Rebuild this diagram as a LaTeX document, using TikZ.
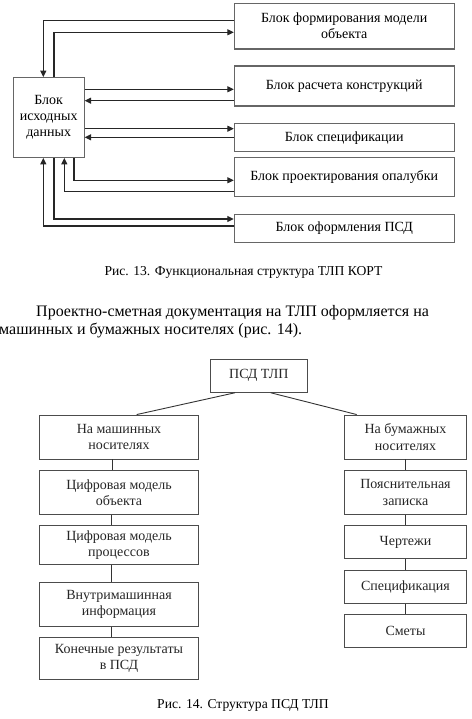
\documentclass[tikz,border=0pt]{standalone}
\usepackage{fontspec}
\setmainfont{Liberation Serif}
\usetikzlibrary{arrows.meta}
\begin{document}
\begin{tikzpicture}[x=1pt,y=-1pt,
  boxA/.style={draw=black!60,line width=1.1pt,inner sep=0pt,align=center,
    font=\fontsize{14}{16}\selectfont},
  boxB/.style={draw=black!70,line width=0.9pt,inner sep=0pt,align=center,
    font=\fontsize{14}{16.5}\selectfont,text=black!85},
  conn/.style={draw=black!85,line width=1.1pt},
  arr/.style={conn,-{Triangle[length=6.5pt,width=6pt]}},
  tline/.style={draw=black!80,line width=0.9pt}]
\useasboundingbox (0,0) rectangle (471,719);
% ---------- Figure 13 ----------
\node[boxA,minimum width=70.7pt,minimum height=79.6pt] (src) at (48.7,117.5) {Блок\\исходных\\данных};
\node[boxA,minimum width=219.7pt,minimum height=45.7pt] (b1) at (344.2,26.2) {Блок формирования модели\\объекта};
\node[boxA,minimum width=219.7pt,minimum height=40pt] (b2) at (344.2,86) {Блок расчета конструкций};
\node[boxA,minimum width=219.7pt,minimum height=28pt] (b3) at (344.2,137.7) {Блок спецификации};
\node[boxA,minimum width=219.7pt,minimum height=39.4pt] (b4) at (344.2,177) {Блок проектирования опалубки};
\node[boxA,minimum width=219.7pt,minimum height=28pt] (b5) at (344.2,228.3) {Блок оформления ПСД};
\draw[arr] (b1.west |- 0,20.7) -| (src.north -| 43.3,0);
\draw[arr] (src.north -| 54,0) |- (b1.west |- 0,32.3);
\draw[arr] (src.east |- 0,89.3) -- (b2.west |- 0,89.3);
\draw[arr] (b2.west |- 0,100.7) -- (src.east |- 0,100.7);
\draw[arr] (src.east |- 0,128.7) -- (b3.west |- 0,128.7);
\draw[arr] (b3.west |- 0,137.3) -- (src.east |- 0,137.3);
\draw[arr] (src.south -| 74,0) |- (b4.west |- 0,180.3);
\draw[arr] (b4.west |- 0,191.7) -| (src.south -| 64.3,0);
\draw[arr] (src.south -| 54,0) |- (b5.west |- 0,219);
\draw[arr] (b5.west |- 0,226) -| (src.south -| 43.3,0);
\node[font=\fontsize{13.6}{15}\selectfont] (cap13) at (243.5,272.7) {Рис. 13. Функциональная структура ТЛП КОРТ};
% ---------- paragraph ----------
\node[anchor=base west,inner sep=0pt,font=\fontsize{16}{18}\selectfont] (par1) at (36,316) {Проектно-сметная документация на ТЛП оформляется на};
\node[anchor=base west,inner sep=0pt,font=\fontsize{16}{18}\selectfont] (par2) at (-1,334.5) {машинных и бумажных носителях (рис. 14).};
% ---------- Figure 14 ----------
\node[boxB,minimum width=97.7pt,minimum height=33pt] (p) at (258.8,375.8) {ПСД ТЛП};
\node[boxB,minimum width=159.4pt,minimum height=44pt] (l1) at (119,437) {На машинных\\носителях};
\node[boxB,minimum width=159.4pt,minimum height=43.6pt] (l2) at (119,492.5) {Цифровая модель\\объекта};
\node[boxB,minimum width=159.4pt,minimum height=38.6pt] (l3) at (119,545) {Цифровая модель\\процессов};
\node[boxB,minimum width=159.4pt,minimum height=44pt] (l4) at (119,604.3) {Внутримашинная\\информация};
\node[boxB,minimum width=159.4pt,minimum height=41.3pt] (l5) at (119,658.3) {Конечные результаты\\в ПСД};
\node[boxB,minimum width=122.4pt,minimum height=44pt] (r1) at (405.5,437) {На бумажных\\носителях};
\node[boxB,minimum width=122.4pt,minimum height=43.6pt] (r2) at (405.5,492.5) {Пояснительная\\записка};
\node[boxB,minimum width=122.4pt,minimum height=32.6pt] (r3) at (405.5,542) {Чертежи};
\node[boxB,minimum width=122.4pt,minimum height=33.3pt] (r4) at (405.5,586.7) {Спецификация};
\node[boxB,minimum width=122.4pt,minimum height=33pt] (r5) at (405.5,630.8) {Сметы};
\draw[tline] (p.south -| 235,0) -- (l1.north -| 136.7,0);
\draw[tline] (p.south -| 270.7,0) -- (r1.north -| 356.7,0);
\draw[tline] (l1.south -| 112.5,0) -- (l2.north -| 112.5,0);
\draw[tline] (l2.south -| 111.7,0) -- (l3.north -| 111.7,0);
\draw[tline] (l3.south -| 111,0) -- (l4.north -| 111,0);
\draw[tline] (l4.south -| 111,0) -- (l5.north -| 111,0);
\draw[tline] (r1.south) -- (r2.north);
\draw[tline] (r2.south) -- (r3.north);
\draw[tline] (r3.south) -- (r4.north);
\draw[tline] (r4.south) -- (r5.north);
\node[font=\fontsize{13.6}{15}\selectfont] (cap14) at (243,705) {Рис. 14. Структура ПСД ТЛП};
\end{tikzpicture}
\end{document}
